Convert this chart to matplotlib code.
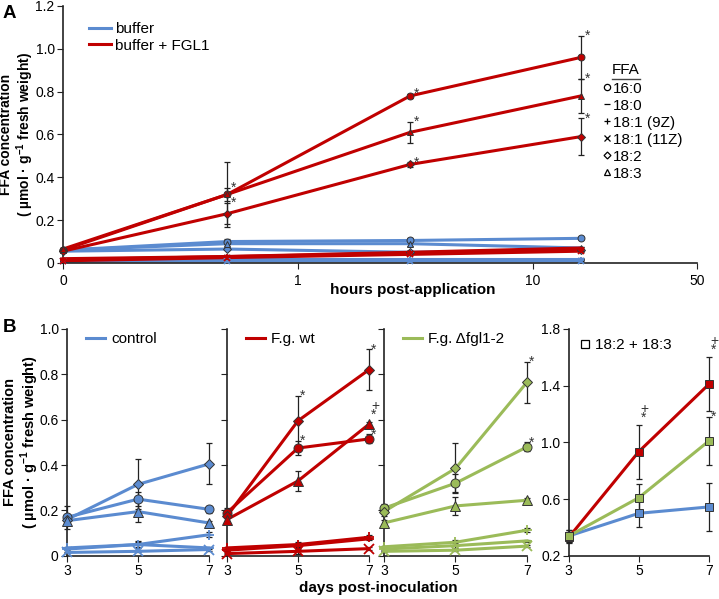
import matplotlib
matplotlib.use('Agg')
import matplotlib.pyplot as plt
import numpy as np
from matplotlib.lines import Line2D

plt.rcParams['font.family'] = ['Liberation Sans', 'DejaVu Sans']
plt.rcParams['mathtext.fontset'] = 'custom'
plt.rcParams['mathtext.rm'] = 'Liberation Sans'
plt.rcParams['mathtext.bf'] = 'Liberation Sans:bold'
plt.rcParams['font.size'] = 11

BLUE = '#5b8bd0'
RED = '#c00000'
GREEN = '#9bbb59'

ffa_names = ['16:0', '18:0', '18:1 (9Z)', '18:1 (11Z)', '18:2', '18:3']
ffa_markers = ['o', '_', '+', 'x', 'D', '^']

# panel A: hours post-application
hours = [0, 0.5, 3, 16]
buffer_vals = [
    [0.06, 0.10, 0.105, 0.115],
    [0.02, 0.02, 0.02, 0.02],
    [0.012, 0.015, 0.015, 0.015],
    [0.008, 0.01, 0.01, 0.01],
    [0.055, 0.065, 0.05, 0.06],
    [0.06, 0.09, 0.09, 0.07],
]
buffer_err = [
    [0.005, 0.01, 0.01, 0.005],
    [0.003, 0.003, 0.003, 0.003],
    [0.003, 0.003, 0.003, 0.003],
    [0.003, 0.003, 0.003, 0.003],
    [0.005, 0.005, 0.005, 0.005],
    [0.005, 0.01, 0.01, 0.005],
]
fgl1_vals = [
    [0.06, 0.32, 0.78, 0.96],
    [0.02, 0.03, 0.05, 0.07],
    [0.015, 0.03, 0.045, 0.06],
    [0.01, 0.025, 0.04, 0.055],
    [0.055, 0.23, 0.46, 0.59],
    [0.065, 0.32, 0.61, 0.78],
]
fgl1_err = [
    [0.01, 0.15, 0.01, 0.10],
    [0.003, 0.005, 0.005, 0.005],
    [0.003, 0.005, 0.005, 0.005],
    [0.003, 0.005, 0.005, 0.005],
    [0.005, 0.05, 0.01, 0.085],
    [0.005, 0.03, 0.05, 0.08],
]
# (series index, time index) that carry a significance star
fgl1_stars = [(5, 1), (4, 1), (0, 2), (5, 2), (4, 2), (0, 3), (5, 3), (4, 3)]

# panel B: days post-inoculation
days = [3, 5, 7]
control_vals = [
    [0.17, 0.25, 0.205],
    [0.03, 0.05, 0.035],
    [0.035, 0.05, 0.093],
    [0.015, 0.02, 0.028],
    [0.16, 0.315, 0.405],
    [0.155, 0.195, 0.145],
]
control_err = [
    [0.05, 0.03, 0.015],
    [0.005, 0.015, 0.005],
    [0.005, 0.01, 0.012],
    [0.003, 0.005, 0.005],
    [0.02, 0.11, 0.09],
    [0.02, 0.045, 0.01],
]
wt_vals = [
    [0.19, 0.475, 0.515],
    [0.025, 0.045, 0.075],
    [0.035, 0.05, 0.082],
    [0.01, 0.02, 0.032],
    [0.175, 0.595, 0.82],
    [0.16, 0.33, 0.58],
]
wt_err = [
    [0.02, 0.03, 0.02],
    [0.005, 0.01, 0.005],
    [0.005, 0.01, 0.008],
    [0.003, 0.01, 0.005],
    [0.02, 0.11, 0.09],
    [0.02, 0.045, 0.01],
]
wt_marks = [(4, 1, '*'), (0, 1, '*'), (4, 2, '*'), (5, 2, '+\n*'), (0, 2, '*')]
mut_vals = [
    [0.21, 0.32, 0.48],
    [0.03, 0.045, 0.066],
    [0.04, 0.06, 0.113],
    [0.02, 0.025, 0.043],
    [0.195, 0.385, 0.765],
    [0.145, 0.22, 0.245],
]
mut_err = [
    [0.02, 0.04, 0.02],
    [0.005, 0.01, 0.005],
    [0.005, 0.01, 0.008],
    [0.003, 0.005, 0.005],
    [0.02, 0.11, 0.09],
    [0.015, 0.04, 0.01],
]
mut_marks = [(4, 2, '*'), (0, 2, '*')]

sum_labels = ['control', 'F.g. wt', 'F.g. Δfgl1-2']
sum_vals = [
    [0.34, 0.50, 0.545],
    [0.33, 0.935, 1.41],
    [0.34, 0.61, 1.01],
]
sum_err = [
    [0.04, 0.10, 0.17],
    [0.04, 0.19, 0.19],
    [0.04, 0.10, 0.17],
]
sum_marks = [(1, 1, '+\n*'), (1, 2, '+\n*'), (2, 2, '*')]

YLABEL = 'FFA concentration\n( µmol · g$^{\\mathbf{-1}}$ fresh weight)'


def style_axis(ax):
    for s in ['top', 'right']:
        ax.spines[s].set_visible(False)
    for s in ['left', 'bottom']:
        ax.spines[s].set_color('#222222')
        ax.spines[s].set_linewidth(1.2)
    ax.tick_params(direction='out', length=4, color='#222222', labelsize=10, pad=2)


def draw_series(ax, x, vals, errs, color, msize):
    for v, e, m in zip(vals, errs, ffa_markers):
        ax.errorbar(x, v, yerr=e, color=color, lw=2.2, ecolor='#222222',
                    elinewidth=0.9, capsize=2, capthick=0.9, zorder=2,
                    clip_on=False)
        if m in ['_', '+', 'x']:
            ax.plot(x, v, ls='none', marker=m, color=color, ms=msize,
                    mew=1.3, zorder=3, clip_on=False)
        else:
            ax.plot(x, v, ls='none', marker=m, mfc=color, mec='#333333',
                    ms=msize if m != 'D' else msize * 0.75, mew=0.7, zorder=3,
                    clip_on=False)


def mark(ax, x, y, t):
    # significance marks sit right of the error bar top
    ax.text(x, y, t, fontsize=10, ha='left', va='bottom' if '\n' in t else 'center',
            color='#333333', linespacing=0.55)


fig = plt.figure(figsize=(7.19, 5.99), dpi=100)

# ---- panel A
axA = fig.add_axes([0.0876, 0.561, 0.882, 0.429])
style_axis(axA)
hx = np.where(np.array(hours) == 0, 0.1, hours)
draw_series(axA, hx, buffer_vals, buffer_err, BLUE, 5)
draw_series(axA, hx, fgl1_vals, fgl1_err, RED, 5)
for si, ti in fgl1_stars:
    mark(axA, hx[ti] * 1.04, fgl1_vals[si][ti] + fgl1_err[si][ti], '*')
axA.set_xscale('log')
axA.set_xlim(0.1, 50)
axA.set_xticks([0.1, 1, 10, 50])
axA.set_xticklabels(['0', '1', '10', '50'])
axA.minorticks_off()
axA.tick_params(axis='x', labelsize=10, pad=4)
axA.set_ylim(0, 1.2)
axA.set_yticks([0, 0.2, 0.4, 0.6, 0.8, 1.0, 1.2])
axA.set_yticklabels(['0', '0.2', '0.4', '0.6', '0.8', '1.0', '1.2'])
axA.set_ylabel(YLABEL, fontweight='bold', fontsize=10, va='center', linespacing=1.1)
axA.yaxis.set_label_coords(-0.072, 0.5)
fig.text(413 / 719, 1 - 290 / 599, 'hours post-application', ha='center', va='center',
         fontweight='bold', fontsize=11)
legA = axA.legend([Line2D([], [], color=BLUE, lw=2.2), Line2D([], [], color=RED, lw=2.2)],
                  ['buffer', 'buffer + FGL1'], loc='upper left',
                  bbox_to_anchor=(0.02, 0.99), frameon=False, fontsize=11,
                  handlelength=1.4, handletextpad=0.3, labelspacing=0.15)
axA.add_artist(legA)
ffa_handles = [Line2D([], [], ls='none', marker=m, mfc='white', mec='black',
                      color='black', ms=3.5 if m == 'D' else 4.5, mew=0.9)
               for m in ffa_markers]
axA.legend(ffa_handles, ffa_names, loc='upper left', bbox_to_anchor=(0.852, 0.706),
           frameon=False, fontsize=11, handlelength=0.5, handletextpad=0.15,
           labelspacing=0.2, borderpad=0, borderaxespad=0)
axA.text(0.888, 0.722, 'FFA', transform=axA.transAxes, ha='center', va='bottom',
         fontsize=11)
axA.plot([0.866, 0.91], [0.717, 0.717], transform=axA.transAxes, color='#444444',
         lw=1, clip_on=False)
fig.text(0.004, 0.97, 'A', fontsize=13.5, fontweight='bold', va='baseline')

# ---- panel B
lefts = [0.0932, 0.3157, 0.534, 0.791]
widths = [0.1975, 0.1975, 0.199, 0.195]
axes = [fig.add_axes([l, 0.072, w, 0.379]) for l, w in zip(lefts, widths)]
groups = [(control_vals, control_err, BLUE, 'control', []),
          (wt_vals, wt_err, RED, 'F.g. wt', wt_marks),
          (mut_vals, mut_err, GREEN, 'F.g. Δfgl1-2', mut_marks)]
for i, (ax, (vals, errs, col, lab, marks)) in enumerate(zip(axes[:3], groups)):
    style_axis(ax)
    draw_series(ax, days, vals, errs, col, 6.5)
    for si, ti, t in marks:
        mark(ax, days[ti] + 0.06, vals[si][ti] + errs[si][ti], t)
    ax.set_xlim(3, 7)
    ax.set_ylim(0, 1.0)
    ax.set_xticks(days)
    ax.set_yticks([0, 0.2, 0.4, 0.6, 0.8, 1.0])
    if i == 0:
        ax.set_yticklabels(['0', '0.2', '0.4', '0.6', '0.8', '1.0'])
        ax.set_ylabel(YLABEL, fontweight='bold', fontsize=10.5, va='center',
                      linespacing=1.1)
        ax.yaxis.set_label_coords(-0.32, 0.5)
    else:
        ax.set_yticklabels([])
    ax.legend([Line2D([], [], color=col, lw=2.2)], [lab], loc='upper left',
              bbox_to_anchor=(0.04, 1.045), frameon=False, fontsize=11,
              handlelength=1.2, handletextpad=0.4)

ax4 = axes[3]
style_axis(ax4)
for v, e, col in zip(sum_vals, sum_err, [BLUE, RED, GREEN]):
    ax4.errorbar(days, v, yerr=e, color=col, lw=2.2, ecolor='#222222',
                 elinewidth=0.9, capsize=2, capthick=0.9, zorder=2, clip_on=False)
    ax4.plot(days, v, ls='none', marker='s', mfc=col, mec='#333333', ms=6,
             mew=0.7, zorder=3, clip_on=False)
for gi, ti, t in sum_marks:
    mark(ax4, days[ti] + 0.05, sum_vals[gi][ti] + sum_err[gi][ti], t)
ax4.set_xlim(3, 7)
ax4.set_ylim(0.2, 1.8)
ax4.set_xticks(days)
ax4.set_yticks([0.2, 0.6, 1.0, 1.4, 1.8])
ax4.set_yticklabels(['0.2', '0.6', '1.0', '1.4', '1.8'])
ax4.legend([Line2D([], [], ls='none', marker='s', mfc='white', mec='black', ms=6, mew=0.9)],
           ['18:2 + 18:3'], loc='upper left', bbox_to_anchor=(-0.02, 1.02),
           frameon=False, fontsize=11, handlelength=0.7, handletextpad=0.3)

fig.text(0.526, 0.018, 'days post-inoculation', ha='center', va='center',
         fontweight='bold', fontsize=11)
fig.text(0.004, 0.446, 'B', fontsize=13.5, fontweight='bold', va='baseline')

fig.savefig('out.png', dpi=100)
